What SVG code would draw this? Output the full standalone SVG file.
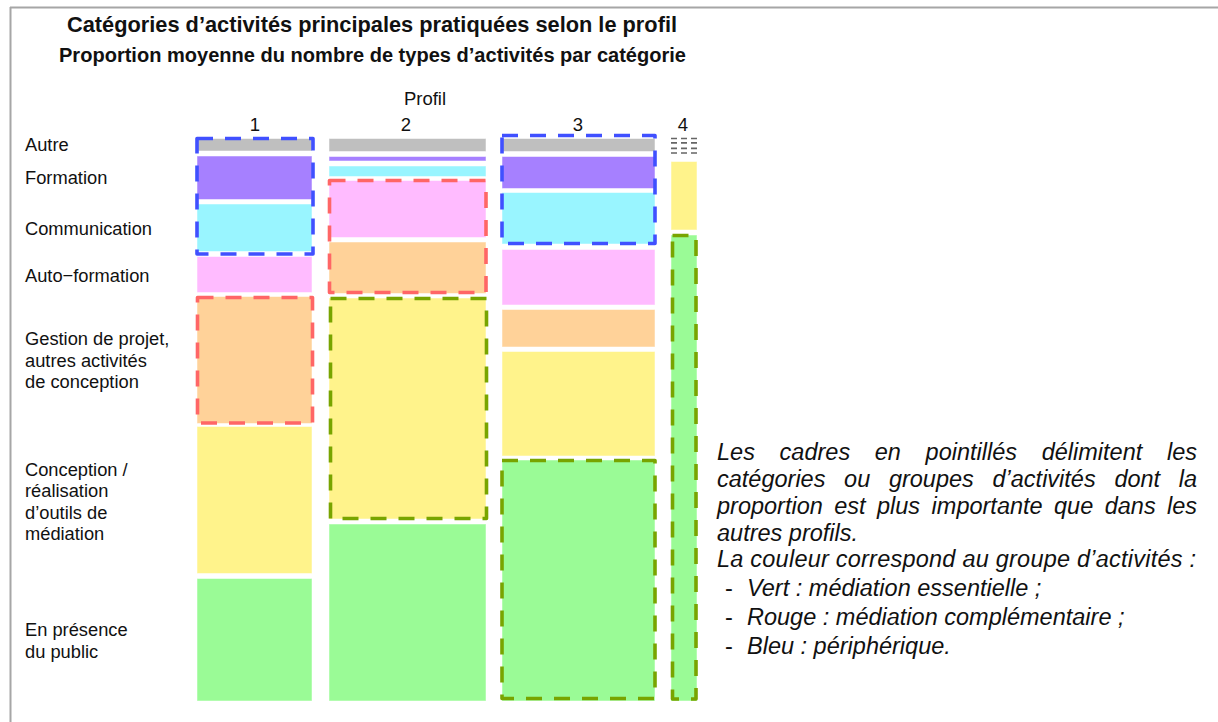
<svg xmlns="http://www.w3.org/2000/svg" width="1218" height="722" viewBox="0 0 1218 722">
<style>
text{font-family:"Liberation Sans",Arial,sans-serif;fill:#111}
.t{font-weight:bold;font-size:21.5px;text-anchor:middle}
.st{font-weight:bold;font-size:19.5px;text-anchor:middle}
.ax{font-size:18.5px;text-anchor:middle}
.lb{font-size:18.3px}
.it{font-size:23.5px;font-style:italic}
.hy{font-size:23.5px}
.gr{fill:#bfbfbf}.pu{fill:#a680ff}.cy{fill:#99f5ff}.pk{fill:#ffbbff}.or{fill:#ffd299}.ye{fill:#fff38b}.gn{fill:#9afb96}
.seg rect{stroke:#ffffff;stroke-opacity:0.5;stroke-width:1}
.box{fill:none;stroke-width:3.6;stroke-dasharray:16 12;stroke-linejoin:round}
.bb{stroke:#4050ff}.rb{stroke:#ff6666}.gb{stroke:#78a400}
.hatch{stroke:#666666;stroke-width:1.7;stroke-dasharray:6 4}
</style>
<g id="frame">
<line x1="10.5" y1="7" x2="10.5" y2="722" stroke="#a6a6a6" stroke-width="2"/>
<line x1="10" y1="7.5" x2="1218" y2="7.5" stroke="#a6a6a6" stroke-width="2"/>
</g>
<g id="titles">
<text class="t" x="372" y="32" textLength="610" lengthAdjust="spacingAndGlyphs">Catégories d’activités principales pratiquées selon le profil</text>
<text class="st" x="372.5" y="62" textLength="627" lengthAdjust="spacingAndGlyphs">Proportion moyenne du nombre de types d’activités par catégorie</text>
<text class="ax" x="425" y="105">Profil</text>
<text class="ax" x="255" y="131">1</text>
<text class="ax" x="406" y="131">2</text>
<text class="ax" x="578" y="131">3</text>
<text class="ax" x="683" y="131">4</text>
</g>
<g id="category-labels">
<text class="lb" x="25" y="150.7">Autre</text>
<text class="lb" x="25" y="184.3">Formation</text>
<text class="lb" x="25" y="235">Communication</text>
<text class="lb" x="25" y="281.7">Auto−formation</text>
<text class="lb" x="25" y="345">Gestion de projet,</text>
<text class="lb" x="25" y="366.7">autres activités</text>
<text class="lb" x="25" y="388.3">de conception</text>
<text class="lb" x="25" y="475.5">Conception /</text>
<text class="lb" x="25" y="497">réalisation</text>
<text class="lb" x="25" y="518.5">d’outils de</text>
<text class="lb" x="25" y="540">médiation</text>
<text class="lb" x="25" y="636">En présence</text>
<text class="lb" x="25" y="657.5">du public</text>
</g>
<g id="profil-1" class="seg">
<rect class="gr" x="197" y="138.5" width="115" height="12.5"/>
<rect class="pu" x="197" y="156" width="115" height="43.5"/>
<rect class="cy" x="197" y="204" width="115" height="47.5"/>
<rect class="pk" x="197" y="256.5" width="115" height="36"/>
<rect class="or" x="197" y="296.5" width="115" height="127"/>
<rect class="ye" x="197" y="426.5" width="115" height="147"/>
<rect class="gn" x="197" y="578.5" width="115" height="122.5"/>
</g>
<g id="profil-2" class="seg">
<rect class="gr" x="329" y="138.5" width="157" height="13"/>
<rect class="pu" x="329" y="156.5" width="157" height="4.5"/>
<rect class="cy" x="329" y="166" width="157" height="10.5"/>
<rect class="pk" x="329" y="180.5" width="157" height="57"/>
<rect class="or" x="329" y="242" width="157" height="51.5"/>
<rect class="ye" x="329" y="298" width="157" height="221"/>
<rect class="gn" x="329" y="524" width="157" height="177"/>
</g>
<g id="profil-3" class="seg">
<rect class="gr" x="502" y="138.5" width="153" height="13"/>
<rect class="pu" x="502" y="156.5" width="153" height="32"/>
<rect class="cy" x="502" y="192.5" width="153" height="51.5"/>
<rect class="pk" x="502" y="249.5" width="153" height="55.5"/>
<rect class="or" x="502" y="309.5" width="153" height="37.5"/>
<rect class="ye" x="502" y="351.5" width="153" height="104.5"/>
<rect class="gn" x="502" y="460" width="153" height="241"/>
</g>
<g id="profil-4" class="seg">
<line class="hatch" x1="671" y1="138.5" x2="697" y2="138.5"/>
<line class="hatch" x1="671" y1="142.8" x2="697" y2="142.8"/>
<line class="hatch" x1="671" y1="148.3" x2="697" y2="148.3"/>
<line class="hatch" x1="671" y1="153" x2="697" y2="153"/>
<rect class="ye" x="671" y="161.5" width="26" height="68.5"/>
<rect class="gn" x="671" y="235" width="26" height="466"/>
</g>
<g id="dashed-frames">
<rect class="box bb" x="197" y="138.5" width="116" height="115.5"/>
<rect class="box rb" x="197.5" y="297.5" width="115" height="125.5"/>
<rect class="box rb" x="329.5" y="180.5" width="156.5" height="112"/>
<rect class="box gb" x="330.5" y="298.5" width="156" height="220"/>
<rect class="box bb" x="502" y="135.5" width="153" height="108"/>
<rect class="box gb" x="502" y="460.5" width="153" height="238"/>
<rect class="box gb" x="672.5" y="235.5" width="23.5" height="463.5"/>
</g>
<g id="note">
<text class="it" y="459.5"><tspan x="717">Les</tspan><tspan x="779.6">cadres</tspan><tspan x="874.8">en</tspan><tspan x="925.6">pointillés</tspan><tspan x="1041.7">délimitent</tspan></text>
<text class="it" x="1197" y="459.5" text-anchor="end">les</text>
<text class="it" y="486.5"><tspan x="717">catégories</tspan><tspan x="844.1">ou</tspan><tspan x="888.9">groupes</tspan><tspan x="992.5">d’activités</tspan><tspan x="1114.4">dont</tspan></text>
<text class="it" x="1197" y="486.5" text-anchor="end">la</text>
<text class="it" y="513.5"><tspan x="717">proportion</tspan><tspan x="834.3">est</tspan><tspan x="877">plus</tspan><tspan x="931.6">importante</tspan><tspan x="1054">que</tspan><tspan x="1104.7">dans</tspan></text>
<text class="it" x="1197" y="513.5" text-anchor="end">les</text>
<text class="it" x="717" y="540.5">autres profils.</text>
<text class="it" x="717" y="567" textLength="479" lengthAdjust="spacing">La couleur correspond au groupe d’activités :</text>
<text class="hy" x="725" y="596">-</text>
<text class="it" x="747" y="596">Vert : médiation essentielle ;</text>
<text class="hy" x="725" y="625">-</text>
<text class="it" x="747" y="625">Rouge : médiation complémentaire ;</text>
<text class="hy" x="725" y="654">-</text>
<text class="it" x="747" y="654">Bleu : périphérique.</text>
</g>
</svg>
